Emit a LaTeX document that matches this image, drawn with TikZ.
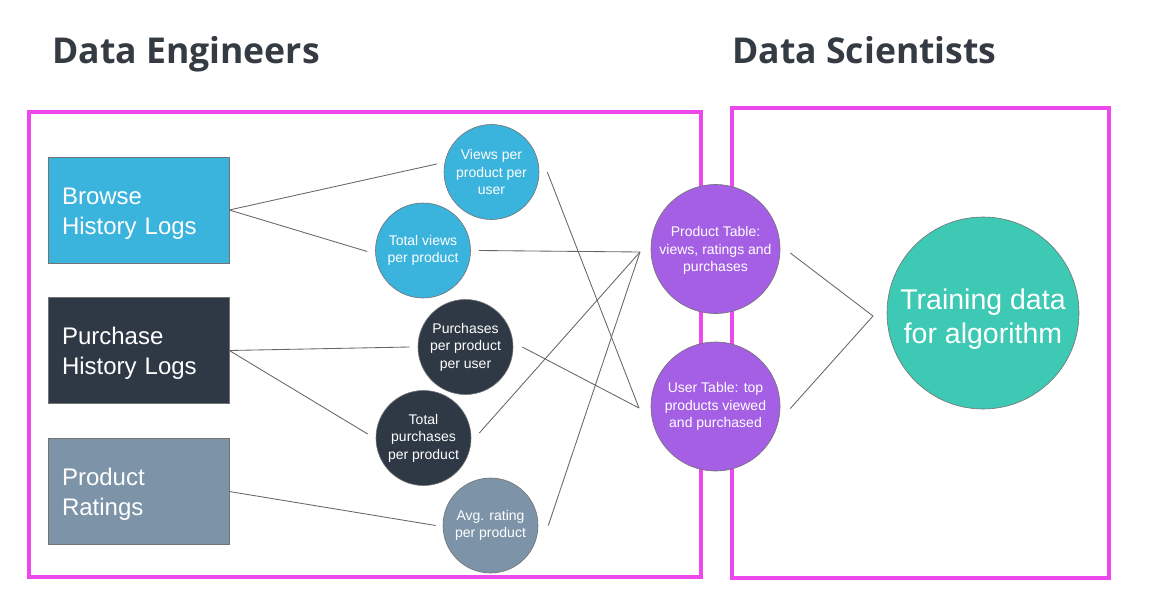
\documentclass[tikz,border=0pt]{standalone}
\usepackage{fontspec}
\setmainfont{Liberation Sans}
\newfontfamily\headfont{Open Sans}
\definecolor{cblue}{HTML}{3AB3DD}
\definecolor{cdark}{HTML}{2E3945}
\definecolor{cgrey}{HTML}{7D94A8}
\definecolor{cpurple}{HTML}{A45FE4}
\definecolor{cteal}{HTML}{3DC9B3}
\definecolor{cmag}{HTML}{EC48EC}
\definecolor{chead}{HTML}{343B43}
\definecolor{cline}{HTML}{666666}
\newcommand{\lift}[1]{\rule{0pt}{#1}}
\begin{document}
\begin{tikzpicture}[x=1pt,y=-1pt,
 srcbox/.style={rectangle, draw=black!55, line width=0.6pt, minimum width=181pt, minimum height=106pt, text width=153pt, inner xsep=14pt, align=left, text=white, font=\fontsize{24}{30}\selectfont},
 dot/.style={circle, draw=black!55, line width=0.6pt, minimum size=95pt, inner sep=0pt, align=center, text=white, font=\fontsize{14}{17.5}\selectfont},
 bigdot/.style={dot, minimum size=129pt},
 conn/.style={draw=cline, line width=0.85pt},
 frame/.style={draw=cmag, line width=4pt},
 head/.style={anchor=base west, inner sep=0pt, text=chead, font=\headfont\bfseries\fontsize{35.6}{40}\selectfont}]
\useasboundingbox (0,0) rectangle (1151,591);
\fill[white] (0,0) rectangle (1151,591);

\node[head] (hde) at (52,64) {Data Engineers};
\node[head] (hds) at (732,64) {Data Scientists};

\draw[frame] (29,112) rectangle (701,577);
\draw[frame] (732,108) rectangle (1109,578);

\node[srcbox, fill=cblue] (browse) at (138.5,210) {\lift{23pt}Browse\\History Logs};
\node[srcbox, fill=cdark] (purchase) at (138.5,350.5) {\lift{23pt}Purchase\\History Logs};
\node[srcbox, fill=cgrey] (ratings) at (138.5,491.5) {\lift{23pt}Product\\Ratings};

\node[dot, fill=cblue] (views) at (491.5,172) {Views per\\product per\\user};
\node[dot, fill=cblue] (totviews) at (423,250.5) {Total views\\per product};
\node[dot, fill=cdark] (ppu) at (465.5,347) {Purchases\\per product\\per user};
\node[dot, fill=cdark] (totpur) at (423.5,438) {Total\\purchases\\per product};
\node[dot, fill=cgrey] (avg) at (490.5,525.5) {Avg. rating\\per product};

\node[bigdot, fill=cpurple] (prodtab) at (715.5,249) {\lift{13pt}Product Table:\\views, ratings and\\purchases};
\node[bigdot, fill=cpurple] (usertab) at (715.5,406.5) {User Table: top\\products viewed\\and purchased};

\node[dot, fill=cteal, minimum size=192pt, font=\fontsize{28.5}{34}\selectfont] (train) at (983,313) {\lift{33pt}Training data\\for algorithm};

\coordinate (cP) at (640,252);
\coordinate (cU) at (639,408);
\coordinate (cT) at (873,316);

\draw[conn] (browse.east) -- ([xshift=-7pt,yshift=8pt]views.west);
\draw[conn] (browse.east) -- ([xshift=-8pt,yshift=-1pt]totviews.west);
\draw[conn] (purchase.east) -- ([xshift=-8pt]ppu.west);
\draw[conn] (purchase.east) -- ([xshift=-8pt,yshift=4pt]totpur.west);
\draw[conn] (ratings.east) -- ([xshift=-7pt]avg.west);
\draw[conn] ([xshift=8pt]totviews.east) -- (cP);
\draw[conn] ([xshift=8pt]views.east) -- (cU);
\draw[conn] ([xshift=9pt]ppu.east) -- (cU);
\draw[conn] ([xshift=8pt,yshift=5pt]totpur.east) -- (cP);
\draw[conn] ([xshift=10pt]avg.east) -- (cP);
\draw[conn] ([xshift=10pt,yshift=-4pt]prodtab.east) -- (cT);
\draw[conn] ([xshift=10pt,yshift=-2pt]usertab.east) -- (cT);
\end{tikzpicture}
\end{document}
